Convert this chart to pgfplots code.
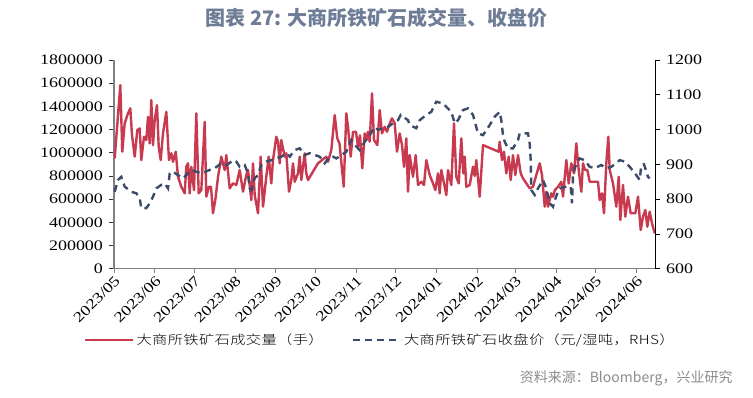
\documentclass[border=0pt]{standalone}
\usepackage{fontspec}
\usepackage{pgfplots}
\pgfplotsset{compat=1.18}
\setmainfont{Liberation Serif}
\newfontfamily\cjk{Noto Sans CJK SC}
\newfontfamily\legfont{Noto Sans CJK SC Light}[FakeStretch=1.22, LetterSpace=3]
\newfontfamily\tickfont{Liberation Serif}[FakeStretch=1.24]
\definecolor{volred}{RGB}{200,58,80}
\definecolor{priceblue}{RGB}{60,75,105}
\definecolor{titlecol}{RGB}{110,124,150}
\definecolor{srcgray}{RGB}{140,140,140}
\begin{document}
\begin{tikzpicture}
\path[use as bounding box] (0,0) rectangle (753bp,398bp);
\node[font=\cjk\bfseries\fontsize{20bp}{24bp}\selectfont, text=titlecol] at (376.5bp,380bp) {图表 27: 大商所铁矿石成交量、收盘价};
\node[anchor=east, font=\cjk\fontsize{14bp}{16bp}\selectfont, text=srcgray] at (736bp,20bp) {资料来源：Bloomberg，兴业研究};
\begin{axis}[
  at={(114bp,129.3bp)}, anchor=south west,
  scale only axis, width=541bp, height=208.7bp,
  xmin=0, xmax=541, ymin=0, ymax=1800000,
  axis x line*=bottom, axis y line*=left,
  x axis line style={-, draw=gray, line width=1.6bp},
  y axis line style={-, draw=gray, line width=1.2bp},
  tick align=outside, major tick length=4.5bp,
  xtick={0,40.8,80.2,121.0,161.8,201.3,242.1,281.5,322.3,363.1,401.2,442.0,481.5,522.3},
  xticklabels={2023/05,2023/06,2023/07,2023/08,2023/09,2023/10,2023/11,2023/12,2024/01,2024/02,2024/03,2024/04,2024/05,2024/06},
  xticklabel style={rotate=45, anchor=north east, inner sep=1bp, font=\tickfont\fontsize{14.5bp}{16bp}\selectfont},
  x tick style={draw=gray, line width=1bp},
  ytick={0,200000,400000,600000,800000,1000000,1200000,1400000,1600000,1800000},
  scaled y ticks=false,
  y tick style={draw=black!80, line width=0.8bp},
  /pgf/number format/assume math mode=true,
  yticklabel style={/pgf/number format/fixed, /pgf/number format/precision=0, /pgf/number format/1000 sep={}, font=\tickfont\fontsize{14.5bp}{16bp}\selectfont, xshift=-3bp},
  clip=false,
]
\addplot[volred, line width=2.4bp, line join=round] coordinates {
(0.7,952000) (6.3,1584000) (8.3,1009000) (10.7,1253000) (14,1340000) (16.3,1383000) (18,1153000) (20.7,966000)
(23.3,1196000) (25.7,1210000) (27.3,937000) (30,1138000) (32.3,1110000) (34,1310000) (35.7,1080000) (37.3,1454000)
(39,1066000) (40.7,1282000) (43,1411000) (44.7,1052000) (46.7,937000) (49,1167000) (52.3,1353000) (55,937000)
(57.3,995000) (59,922000) (61.7,1009000) (64,793000) (67.3,707000) (70.7,650000) (72.3,879000) (74,909000)
(75.7,650000) (77.3,879000) (80,678000) (82.3,1340000) (84.7,650000) (87.3,678000) (90.7,1267000) (92.3,621000)
(95,707000) (97,707000) (99,478000) (101.3,592000) (104,790000) (107.3,966000) (110.7,851000) (112.3,980000)
(115.7,693000) (119,736000) (122.3,722000) (125.7,851000) (129,664000) (132.3,808000) (134,851000) (137.3,592000)
(139,909000) (140.7,635000) (144,478000) (146.7,966000) (149,535000) (152.3,793000) (154.7,966000) (157.3,736000)
(159,937000) (162.3,1138000) (164,1095000) (165.7,909000) (167.3,1110000) (170.7,966000) (172.3,995000) (175,664000)
(177.3,765000) (179,909000) (180.7,750000) (184,822000) (185.7,966000) (187.3,765000) (190.7,995000) (192.3,822000)
(194,765000) (204,909000) (212.3,966000) (214,922000) (217.3,1023000) (220.7,1325000) (223.3,1124000) (225.5,1080000)
(229.7,707000) (232.3,1340000) (234,1224000) (236.7,966000) (239,1181000) (242,1181000) (244,1052000) (246,1150000)
(248.3,866000) (250.7,1167000) (252.5,1110000) (254,1181000) (255.7,1095000) (258,1512000) (260,1110000) (263.3,1066000)
(265.7,1368000) (268,1167000) (270.7,1224000) (273,1181000) (275.7,1253000) (278,1297000) (280.7,1253000) (283,1009000)
(285.7,1167000) (288,1066000) (290,879000) (292.3,1124000) (294,664000) (295.7,980000) (299,793000) (301.7,980000)
(304,722000) (307.3,750000) (310,722000) (312.3,937000) (315.7,808000) (319,736000) (321.3,678000) (324,822000)
(325.7,650000) (327.3,851000) (330.7,707000) (332.3,635000) (334,851000) (337.3,722000) (340,1253000) (342.3,793000)
(344.7,736000) (347.3,1124000) (349.3,822000) (350.7,966000) (352.3,707000) (355.7,722000) (359,880000) (360.7,800000)
(362.3,937000) (365.7,621000) (369,1066000) (370.7,1060000) (384.7,1009000) (385.7,1095000) (388,937000) (390,1009000)
(392.3,822000) (394.7,966000) (396.7,765000) (399,980000) (401.3,808000) (404,980000) (406.7,822000) (409,779000)
(412.3,736000) (415.7,693000) (419,707000) (422.3,808000) (425.7,909000) (428,808000) (430.7,535000) (432.3,664000)
(434,535000) (437.3,650000) (439,621000) (441,680000) (444,707000) (447.3,750000) (449,621000) (452.3,937000)
(454.7,736000) (457.3,909000) (460,822000) (462.3,1081000) (464.7,851000) (467.3,664000) (469,909000) (471,851000)
(473.3,851000) (475.7,750000) (484,750000) (485.7,592000) (488,650000) (490,478000) (492.3,909000) (494.3,1138000)
(495.7,851000) (499,736000) (502.3,535000) (504.7,793000) (506.3,420000) (509,722000) (511.3,449000) (514,621000)
(516.7,478000) (519,478000) (521.3,478000) (524,621000) (526.7,334000) (529,449000) (531.3,506000) (533.3,362000)
(535.7,492000) (538,391000) (540.7,305000)
};
\end{axis}
\begin{axis}[
  at={(114bp,129.3bp)}, anchor=south west,
  scale only axis, width=541bp, height=208.7bp,
  xmin=0, xmax=541, ymin=600, ymax=1200,
  axis x line=none, axis y line*=right,
  y axis line style={-, draw=black, line width=1bp},
  tick align=outside, major tick length=4.5bp,
  ytick={600,700,800,900,1000,1100,1200},
  y tick style={draw=black, line width=0.8bp},
  /pgf/number format/assume math mode=true,
  yticklabel style={/pgf/number format/1000 sep={}, font=\tickfont\fontsize{14.5bp}{16bp}\selectfont, xshift=3bp},
  clip=false,
  legend style={at={(-0.0555,-0.3416)}, anchor=west, draw=none, fill=none, inner sep=0pt,
    legend columns=2, font=\legfont\fontsize{12.5bp}{15bp}\selectfont,
    /tikz/every even column/.append style={column sep=26bp}},
  legend cell align=left,
  legend image code/.code={\draw[#1] (0bp,0bp) -- (48bp,0bp);},
]
\addlegendimage{volred, line width=2.4bp}
\addlegendentry{大商所铁矿石成交量（手）}
\addplot[priceblue, line width=2.4bp, dash pattern=on 7bp off 5bp] coordinates {
(0.7,821) (4,855) (7.3,864) (10.7,836) (17.3,821) (22.3,817) (25.7,802) (27.3,774) (32.3,774) (35.7,788)
(39,807) (42.3,831) (47.3,841) (50.7,845) (54,831) (55.7,874) (59,879) (64,869) (69,860) (72.3,869)
(77.3,884) (82.3,879) (87.3,874) (95.7,884) (100.7,889) (107.3,903) (112.7,898) (119.3,912) (122.3,908) (125.7,893)
(130.7,898) (134,874) (135.7,831) (137.3,826) (140.7,860) (144,869) (147.3,898) (152.3,908) (157.3,912) (162.3,917)
(167.3,922) (172.3,932) (175.7,922) (180.7,941) (185.7,946) (190.7,927) (195.7,932) (200.7,927) (205.7,922) (210.7,903)
(215.7,922) (219,922) (222.3,917) (232.3,936) (237.3,970) (240.7,956) (245.7,941) (250.7,965) (255.7,984) (260.7,1008)
(264,999) (269,1004) (274,1008) (279,1018) (284,1027) (286.7,1042) (294,1027) (295.7,1013) (302.3,1004) (305.7,1027)
(312.3,1042) (317.3,1051) (322.3,1080) (329,1075) (337.3,1051) (340.7,1018) (344,1027) (349,1056) (354,1061) (359,1042)
(364,989) (369,984) (375.7,1013) (380.7,1037) (385.7,1051) (387.3,1027) (389,984) (390.7,965) (394,946) (399,946)
(404,970) (405.7,989) (414,989) (415.7,960) (416.7,912) (417.3,826) (420.7,812) (424,831) (429,855) (432.3,831)
(435.7,788) (439,778) (442,807) (445.7,831) (452.3,836) (456.7,836) (458,788) (459,869) (462.3,903) (465.7,917)
(470.7,912) (475.7,893) (480.7,889) (487.3,898) (492.3,889) (497.3,893) (502.3,903) (505.7,912) (510.7,908) (515.7,893)
(522.3,869) (525.7,855) (527.3,898) (530,900) (534,864) (535.7,860)
};
\addlegendentry{大商所铁矿石收盘价（元/湿吨，RHS）}
\end{axis}
\end{tikzpicture}
\end{document}
